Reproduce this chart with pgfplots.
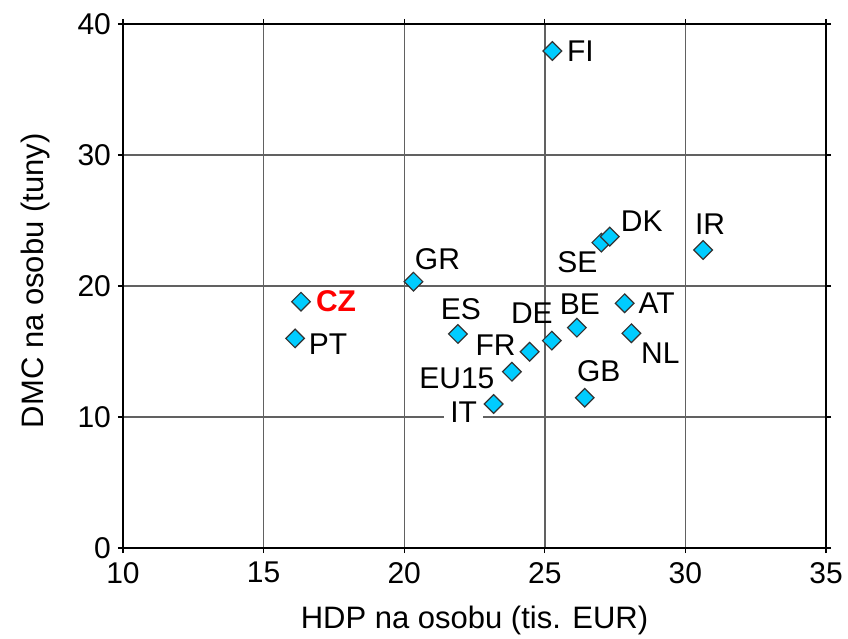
\documentclass[border=0pt]{standalone}
\usepackage{fontspec}
\setmainfont{Liberation Sans}
\usepackage{pgfplots}
\pgfplotsset{compat=1.18}
\definecolor{mk}{RGB}{0,204,255}
\begin{document}
\begin{tikzpicture}
\begin{axis}[
  scale only axis, width=351.5pt, height=262pt,
  xmin=10, xmax=35, ymin=0, ymax=40,
  xtick={10,15,...,35}, ytick={0,10,...,40},
  tick align=outside, major tick length=2.5pt,
  tick style={black, line width=0.6pt},
  grid=major, grid style={black!62, line width=0.7pt},
  axis line style={black, line width=1.1pt},
  /pgf/number format/assume math mode=true,
  ticklabel style={font=\fontsize{15}{17}\selectfont},
  xticklabel style={yshift=-1pt},
  label style={font=\fontsize{15.5}{18}\selectfont},
  xlabel={HDP na osobu (tis. EUR)},
  ylabel={DMC na osobu (tuny)},
  xlabel style={at={([yshift=-36pt]axis description cs:0.5,0)}, anchor=center},
  ylabel style={at={([xshift=-44pt]axis description cs:0,0.51)}, anchor=center},
  nodes near coords,
  point meta=explicit symbolic,
  every node near coord/.style={font=\fontsize{15}{17}\selectfont, inner sep=0pt, anchor=center},
  clip=false,
]
\addplot[only marks, mark=square*, mark size=3.3pt,
  mark options={rotate=45, fill=mk, draw=black!80, line width=0.6pt},
  visualization depends on={value \thisrow{dx} \as \dx},
  visualization depends on={value \thisrow{dy} \as \dy},
  every node near coord/.append style={xshift=\dx pt, yshift=\dy pt},
] table[x=x, y=y, meta=lab] {
x     y     lab   dx     dy
25.27 37.94 FI    14     0
16.12 16.00 PT    16.5   -3
20.33 20.33 GR    12     11.5
21.91 16.34 ES    1.5    12.5
24.46 14.98 FR    -17    3.5
25.25 15.83 DE    -10    13.5
26.14 16.82 BE    1.5    11.5
23.83 13.46 EU15  -27.5  -3.5
26.42 11.47 GB    7      13.5
27.84 18.68 AT    16     0
28.08 16.39 NL    14.5   -10
27.01 23.31 SE    -12    -10
27.31 23.77 DK    16     7.5
30.63 22.75 IR    3.5    13
};
\addplot[only marks, mark=square*, mark size=3.3pt,
  mark options={rotate=45, fill=mk, draw=black!80, line width=0.6pt},
  every node near coord/.append style={xshift=-15pt, yshift=-4pt, fill=white, inner xsep=3pt, inner ysep=2pt},
] table[x=x, y=y, meta=lab] {
x     y     lab
23.18 10.99 IT
};
\addplot[only marks, mark=square*, mark size=3.3pt,
  mark options={rotate=45, fill=mk, draw=black!80, line width=0.6pt},
  every node near coord/.append style={xshift=17.5pt, yshift=0.5pt, red, font=\fontsize{15}{17}\selectfont\bfseries},
] table[x=x, y=y, meta=lab] {
x     y     lab
16.33 18.80 CZ
};
\coordinate (ll) at (rel axis cs:0,0);
\coordinate (ur) at (rel axis cs:1,1);
\end{axis}
\pgfresetboundingbox
\path ([shift={(-61.5pt,-45pt)}]ll) rectangle ([shift={(11pt,12pt)}]ur);
\end{tikzpicture}
\end{document}
